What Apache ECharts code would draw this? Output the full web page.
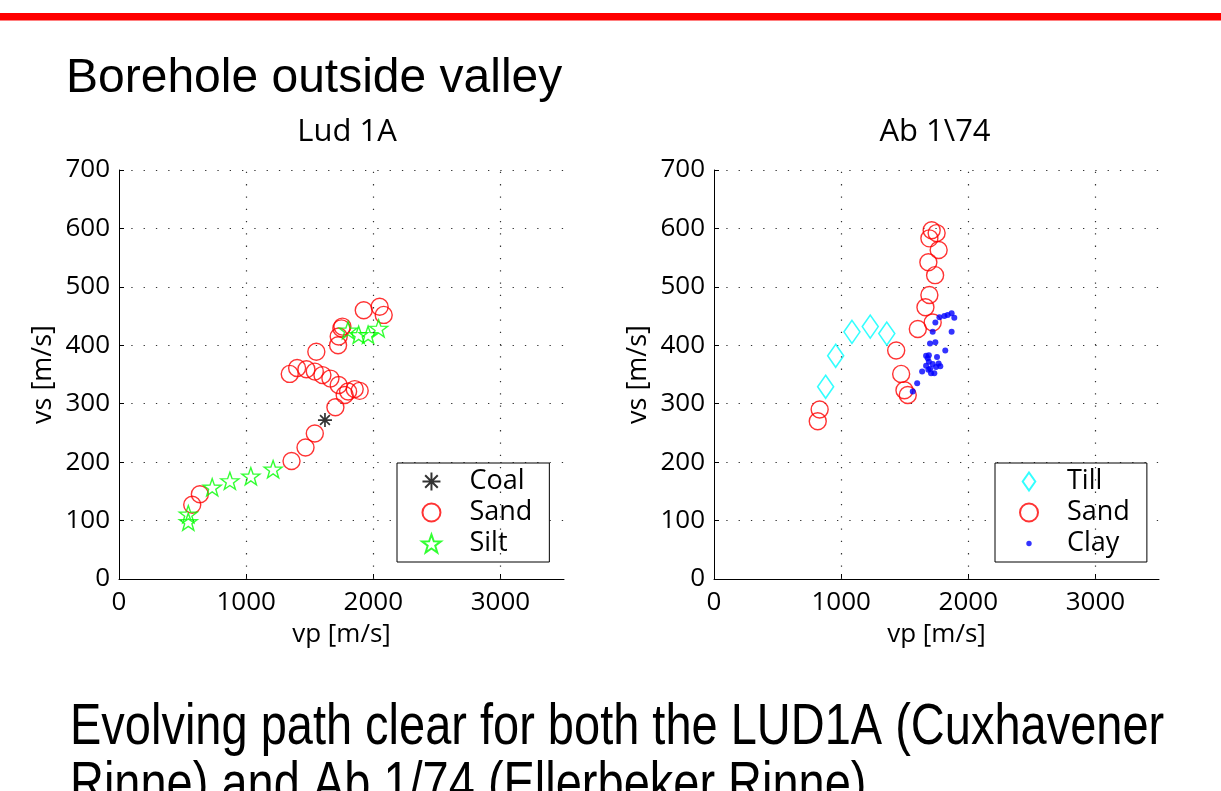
<!DOCTYPE html>
<html><head><meta charset="utf-8">
<script src="https://cdn.jsdelivr.net/npm/echarts@6/dist/echarts.min.js"></script>
<style>html,body{margin:0;padding:0;background:#fff}#c{width:1221px;height:791px}</style>
</head><body><div id="c"></div>
<script>
// ---- data ----
const pageTitle = 'Borehole outside valley';
const footLine1 = 'Evolving path clear for both the LUD1A (Cuxhavener';
const footLine2 = 'Rinne) and Ab 1/74 (Ellerbeker Rinne)';
const plotTitles = ['Lud 1A', 'Ab 1\\74'];
const xName = 'vp [m/s]';
const yName = 'vs [m/s]';
const xMin = 0, xMax = 3500, xStep = 1000;
const yMin = 0, yMax = 700, yStep = 100;
const xGridTicks = [1000, 2000, 3000];

// Lud 1A  [vp, vs]
const ludCoal = [[1620, 272]];
const ludSand = [[576,127],[636,145],[1357,202],[1467,225],[1540,249],[1702,294],[1775,315],
  [1343,351],[1401,361],[1474,359],[1540,355],[1600,349],[1663,343],[1728,332],[1802,321],
  [1854,325],[1893,322],[1552,389],[1723,400],[1728,415],[1749,429],[1757,432],[1925,460],
  [2050,466],[2082,452]];
const ludSilt = [[545,111],[545,98],[733,157],[872,168],[1037,176],[1212,188],
  [1802,426],[1885,418],[1959,418],[2042,429]];

// Ab 1\74  [vp, vs]
const abTill = [[878,329],[957,382],[1085,423],[1229,432],[1359,420]];
const abSand = [[816,270],[831,290],[1433,391],[1472,351],[1498,323],[1524,315],[1603,428],
  [1663,465],[1694,486],[1720,439],[1739,520],[1686,542],[1767,563],[1694,583],[1712,597],[1751,592]];
const abClay = [[1563,321],[1598,335],[1637,355],[1668,365],[1681,378],[1668,382],[1690,383],
  [1686,358],[1707,352],[1733,352],[1746,363],[1767,369],[1780,364],[1754,380],[1699,403],
  [1741,405],[1819,391],[1720,423],[1741,439],[1869,423],[1773,448],[1812,450],[1838,452],
  [1869,455],[1890,447],[1700,360],[1690,372],[1720,368]];

// ---- styles ----
const FONT = '"Open Sans", "Noto Sans", sans-serif';
const STAR = 'path://M10,0 L12.351,6.764 L19.511,6.910 L13.804,11.236 L15.878,18.090 L10,14 L4.122,18.090 L6.196,11.236 L0.489,6.910 L7.649,6.764 Z';
const ASTER = 'path://M0,10 L20,10 M10,0 L10,20 M3,3 L17,17 M17,3 L3,17';
const DIAM = 'path://M7,0 L14,10 L7,20 L0,10 Z';
const DOT = 'path://M0,0 M20,20 M10,7 A3,3 0 1 1 10,13 A3,3 0 1 1 10,7 Z';
const GRIDLINE = {color:'#333', width:1.2, type:[1.3,11]};

function xAxisOpt(gi){
  return {gridIndex:gi, type:'value', min:xMin, max:xMax, interval:xStep,
    name:xName, nameLocation:'middle', nameGap:43,
    nameTextStyle:{fontFamily:FONT, fontSize:26, color:'#000'},
    axisLine:{show:true, onZero:false, lineStyle:{color:'#000', width:1}},
    axisTick:{show:true, inside:true, length:5, lineStyle:{color:'#000'}},
    axisLabel:{fontFamily:FONT, fontSize:26, color:'#000', margin:11, showMaxLabel:false,
      formatter:v => String(v)},
    splitLine:{show:false}};
}
function yAxisOpt(gi){
  return {gridIndex:gi, type:'value', min:yMin, max:yMax, interval:yStep,
    name:yName, nameLocation:'middle', nameGap:62,
    nameTextStyle:{fontFamily:FONT, fontSize:27, color:'#000'},
    axisLine:{show:true, onZero:false, lineStyle:{color:'#000', width:1}},
    axisTick:{show:true, inside:true, length:5, lineStyle:{color:'#000'}},
    axisLabel:{fontFamily:FONT, fontSize:26, color:'#000', margin:9, formatter:v => String(v)},
    splitLine:{show:true, lineStyle:GRIDLINE}};
}
function sc(name, data, gi, symbol, size, style, keep){
  return {type:'scatter', name, data, xAxisIndex:gi, yAxisIndex:gi, symbol, symbolSize:size,
    symbolKeepAspect:!!keep, itemStyle:style, emphasis:{disabled:true}, silent:true};
}
function gridLines(gi){
  return {type:'scatter', name:'_grid'+gi, data:[], xAxisIndex:gi, yAxisIndex:gi, silent:true,
    markLine:{silent:true, symbol:'none', label:{show:false}, lineStyle:GRIDLINE,
      emphasis:{disabled:true}, animation:false,
      data:xGridTicks.map(v => ({xAxis:v}))}};
}
const redC = {color:'transparent', borderColor:'#ff0000', borderWidth:1.4};
const greenS = {color:'transparent', borderColor:'#00ff00', borderWidth:1.4};
const blackA = {color:'transparent', borderColor:'#000', borderWidth:1.7};
const cyanD = {color:'transparent', borderColor:'#00ffff', borderWidth:1.6};
const blueD = {color:'#0000ff', borderWidth:0};

function legendOpt(left, items){
  return {left, top:463, orient:'vertical', itemWidth:28, itemHeight:18, itemGap:4,
    padding:[5,17,5,24], borderColor:'#000', borderWidth:1, backgroundColor:'#fff',
    borderRadius:0, selectedMode:false,
    textStyle:{fontFamily:FONT, fontSize:27, color:'#000', padding:[0,0,0,19]},
    data:items};
}

const chart = echarts.init(document.getElementById('c'), null, {renderer:'canvas'});
chart.setOption({
  animation:false,
  backgroundColor:'#fff',
  grid:[
    {left:119, top:170, width:445, height:409},
    {left:714, top:170, width:445, height:409}
  ],
  xAxis:[xAxisOpt(0), xAxisOpt(1)],
  yAxis:[yAxisOpt(0), yAxisOpt(1)],
  legend:[
    legendOpt(397, [{name:'Coal'},{name:'Sand'},{name:'Silt'}]),
    legendOpt(995, [{name:'Till', icon:DIAM},{name:'Sand'},{name:'Clay', icon:DOT}])
  ],
  series:[
    gridLines(0), gridLines(1),
    sc('Sand', ludSand, 0, 'circle', 17, redC),
    sc('Silt', ludSilt, 0, STAR, 18, greenS, true),
    sc('Coal', ludCoal, 0, ASTER, 14, blackA),
    sc('Till', abTill, 1, 'diamond', [16,23], cyanD),
    sc('Sand', abSand, 1, 'circle', 17, redC),
    sc('Clay', abClay, 1, 'circle', 6, blueD)
  ],
  graphic:[
    {type:'rect', shape:{x:0, y:13, width:1221, height:7.5}, style:{fill:'#ff0000'}},
    {type:'text', x:66, y:79, style:{text:pageTitle, font:'48px "Liberation Sans", Arial, sans-serif', fill:'#000', align:'left', verticalAlign:'middle'}},
    {type:'text', x:347, y:132, style:{text:plotTitles[0], font:'31px '+FONT, fill:'#000', align:'center', verticalAlign:'middle'}},
    {type:'text', x:935, y:132, style:{text:plotTitles[1], font:'31px '+FONT, fill:'#000', align:'center', verticalAlign:'middle'}},
    {type:'text', x:70, y:728, scaleX:0.81, style:{text:footLine1, font:'58px "Liberation Sans", Arial, sans-serif', fill:'#000', align:'left', verticalAlign:'middle'}},
    {type:'text', x:70, y:786, scaleX:0.81, style:{text:footLine2, font:'58px "Liberation Sans", Arial, sans-serif', fill:'#000', align:'left', verticalAlign:'middle'}}
  ]
});
</script></body></html>
